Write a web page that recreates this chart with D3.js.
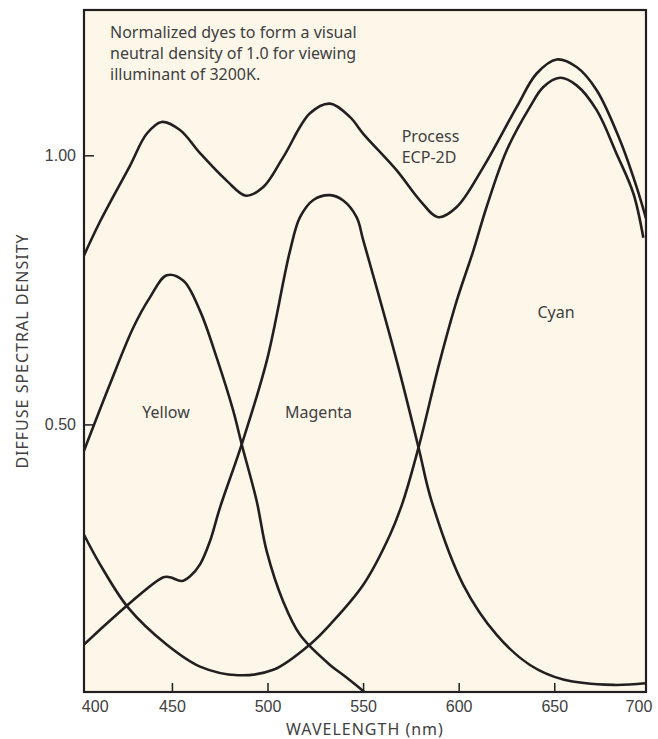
<!DOCTYPE html>
<meta charset="utf-8" />
<style>
  body { margin: 0; background: #fff; overflow: hidden; }
  svg { font-family: "Noto Sans", sans-serif; }
  .tick text { font-size: 16px; fill: #404040; }
</style>
<body>
<svg id="chart"></svg>
<script src="https://d3js.org/d3.v7.min.js"></script>
<script>
// wavelength (nm) for each curve and the density
var ecpWl   = [404, 412.4, 428.1, 436.8, 444.6, 454.2, 464.7, 478.6, 488.7, 497.8, 508.3, 522.2, 532.7, 543.2, 550.1, 567.6, 579.8, 589.3, 599, 612.9, 630.4, 640.8, 651.3, 661.7, 672.2, 684.4, 693.1, 698];
var ecpD    = [0.814, 0.877, 0.981, 1.040, 1.062, 1.047, 1.004, 0.953, 0.925, 0.941, 0.997, 1.078, 1.096, 1.071, 1.040, 0.972, 0.916, 0.885, 0.904, 0.978, 1.090, 1.152, 1.178, 1.164, 1.121, 1.028, 0.941, 0.883];

var yellowWl = [404, 417.6, 429.8, 438.5, 447.3, 456, 464.7, 473.4, 482.1, 486.5, 494.3, 499.6, 508.2, 517, 532.7, 540.5, 551];
var yellowD  = [0.451, 0.575, 0.680, 0.736, 0.777, 0.767, 0.711, 0.624, 0.525, 0.463, 0.358, 0.264, 0.171, 0.109, 0.053, 0.032, 0.002];

var magentaWl = [404, 445.5, 449, 455.1, 459.5, 464.7, 469.9, 475.1, 486.5, 499.6, 511.8, 517, 524, 532.7, 539.6, 546.6, 550.1, 567.6, 579, 585.8, 602.4, 619.9, 637.3, 654.7, 680.9, 697.5];
var magentaD  = [0.091, 0.216, 0.216, 0.209, 0.218, 0.240, 0.283, 0.345, 0.463, 0.618, 0.823, 0.885, 0.917, 0.926, 0.916, 0.885, 0.842, 0.618, 0.457, 0.358, 0.202, 0.109, 0.053, 0.026, 0.016, 0.019];

var cyanWl = [404, 412.4, 427.2, 447.2, 464.7, 484.7, 503, 523.1, 532.7, 550.1, 564.1, 571, 579, 590.2, 599, 607.7, 614.6, 625.1, 637.3, 644.3, 653, 661.7, 672.2, 682.6, 691.4, 696.6];
var cyanD  = [0.295, 0.240, 0.159, 0.091, 0.050, 0.034, 0.044, 0.094, 0.128, 0.202, 0.295, 0.358, 0.457, 0.618, 0.730, 0.823, 0.904, 1.009, 1.090, 1.127, 1.144, 1.130, 1.084, 1.003, 0.929, 0.847];

var xTicks = [400, 450, 500, 550, 600, 650, 700];
var yTicks = [0.5, 1.0];
var noteLines = ["Normalized dyes to form a visual", "neutral density of 1.0 for viewing", "illuminant of 3200K."];

var W = 658, H = 739;
var m = {left: 84, top: 10, right: 12, bottom: 47};
var w = W - m.left - m.right, h = H - m.top - m.bottom;
var ink = "#231f20", txt = "#404040";

var svg = d3.select("#chart").attr("width", W).attr("height", H);

var x = d3.scaleLinear().domain([404, 698]).range([0, w]);
var y = d3.scaleLinear().domain([0, 1.27]).range([h + 1.5, 0]);

var g = svg.append("g").attr("transform", "translate(" + m.left + "," + m.top + ")");

g.append("rect").attr("width", w).attr("height", h).attr("fill", "#fdf7ea");

g.append("clipPath").attr("id", "clip")
  .append("rect").attr("width", w).attr("height", h);

var line = d3.line()
  .x(function(d) { return x(d[0]); })
  .y(function(d) { return y(d[1]); })
  .curve(d3.curveCatmullRom.alpha(0.5));

[[ecpWl, ecpD], [yellowWl, yellowD], [magentaWl, magentaD], [cyanWl, cyanD]].forEach(function(s) {
  g.append("path")
    .datum(d3.zip(s[0], s[1]))
    .attr("clip-path", "url(#clip)")
    .attr("fill", "none")
    .attr("stroke", ink)
    .attr("stroke-width", 2.6)
    .attr("stroke-linejoin", "round")
    .attr("d", line);
});

// axes
var xa = g.append("g").attr("transform", "translate(0," + h + ")")
  .call(d3.axisBottom(x).tickValues(xTicks).tickFormat(d3.format("d")).tickSize(-9).tickPadding(9));
var ya = g.append("g")
  .call(d3.axisLeft(y).tickValues(yTicks).tickFormat(d3.format(".2f")).tickSize(-10).tickPadding(8));
[xa, ya].forEach(function(a) {
  a.select(".domain").remove();
  a.selectAll(".tick line").attr("stroke", ink).attr("stroke-width", 1.5);
});
// end labels sit inside the frame edges, without tick marks
xa.selectAll(".tick").filter(function(d) { return d === 400 || d === 700; })
  .each(function(d) {
    var t = d3.select(this);
    t.select("line").remove();
    t.select("text").attr("text-anchor", d === 400 ? "start" : "end")
      .attr("dx", d === 400 ? 5 : 2);
  });

g.append("rect").attr("width", w).attr("height", h)
  .attr("fill", "none").attr("stroke", ink).attr("stroke-width", 2.2);

// titles
svg.append("text")
  .attr("transform", "translate(28," + (m.top + h / 2) + ") rotate(-90)")
  .attr("text-anchor", "middle").attr("font-size", 16).attr("letter-spacing", 1)
  .attr("fill", txt).text("DIFFUSE SPECTRAL DENSITY");
svg.append("text")
  .attr("x", m.left + w / 2).attr("y", 735)
  .attr("text-anchor", "middle").attr("font-size", 16).attr("letter-spacing", 1)
  .attr("fill", txt).text("WAVELENGTH (nm)");

// annotations
var note = g.append("text").attr("font-size", 16).attr("fill", txt);
noteLines.forEach(function(s, i) {
  note.append("tspan").attr("x", 26).attr("y", 28 + i * 21).text(s);
});

var ann = [
  {t: "Process", wl: 570.2, d: 1.025, a: "start"},
  {t: "ECP-2D", wl: 570.2, d: 0.985, a: "start"},
  {t: "Yellow", wl: 446.9, d: 0.512, a: "middle"},
  {t: "Magenta", wl: 526.7, d: 0.512, a: "middle"},
  {t: "Cyan", wl: 650.9, d: 0.698, a: "middle"}
];
g.selectAll(".ann").data(ann).enter().append("text")
  .attr("class", "ann")
  .attr("x", function(d) { return x(d.wl); })
  .attr("y", function(d) { return y(d.d); })
  .attr("text-anchor", function(d) { return d.a; })
  .attr("font-size", 16).attr("fill", txt)
  .text(function(d) { return d.t; });
</script>
</body>
